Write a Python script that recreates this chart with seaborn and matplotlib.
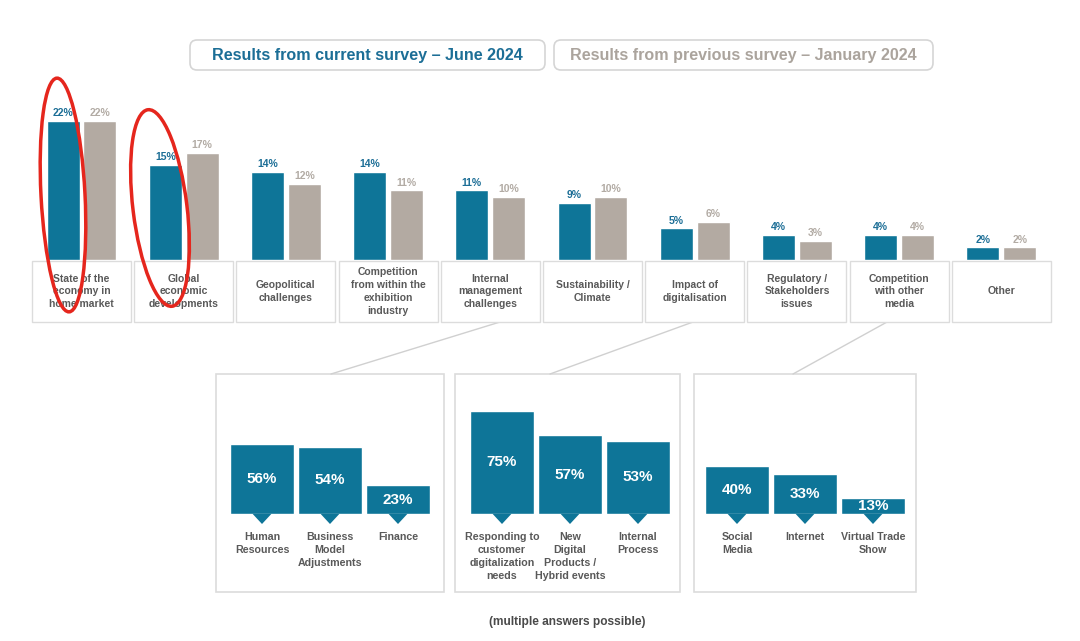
import matplotlib
matplotlib.use("Agg")
import matplotlib.pyplot as plt
import matplotlib.transforms as mtransforms
from matplotlib.patches import Rectangle, FancyBboxPatch, Ellipse, Polygon
import seaborn as sns
import pandas as pd

# ---------------- data ----------------
categories = ["State of the\neconomy in\nhome market", "Global\neconomic\ndevelopments",
              "Geopolitical\nchallenges", "Competition\nfrom within the\nexhibition\nindustry",
              "Internal\nmanagement\nchallenges", "Sustainability /\nClimate",
              "Impact of\ndigitalisation", "Regulatory /\nStakeholders\nissues",
              "Competition\nwith other\nmedia", "Other"]
current = [22, 15, 14, 14, 11, 9, 5, 4, 4, 2]
previous = [22, 17, 12, 11, 10, 10, 6, 3, 4, 2]
series_names = ["Results from current survey \u2013 June 2024",
                "Results from previous survey \u2013 January 2024"]

mgmt_labels = ["Human\nResources", "Business\nModel\nAdjustments", "Finance"]
mgmt_values = [56, 54, 23]
digi_labels = ["Responding to\ncustomer\ndigitalization\nneeds", "New\nDigital\nProducts /\nHybrid events",
               "Internal\nProcess"]
digi_values = [75, 57, 53]
media_labels = ["Social\nMedia", "Internet", "Virtual Trade\nShow"]
media_values = [40, 33, 13]
footnote = "(multiple answers possible)"

# ---------------- style ----------------
BLUE = "#0E7598"
GRAY = "#B3AAA2"
BLUE_TXT = "#1C6E96"
GRAY_TXT = "#B2ABA4"
DARK_TXT = "#595959"
EDGE = "#DCDCDC"

sns.set_theme(style="white")
plt.rcParams["font.family"] = ["Liberation Sans", "DejaVu Sans"]

W, H = 1080, 641
fig = plt.figure(figsize=(W / 100, H / 100), dpi=100)
fig.patch.set_facecolor("white")


def fx(px):
    return px / W


def fy(py):
    return (H - py) / H


# background overlay (pixel coordinates) for frames / decorations
bg = fig.add_axes([0, 0, 1, 1], zorder=0)
bg.set_xlim(0, W)
bg.set_ylim(H, 0)
bg.axis("off")

# ---------------- main chart ----------------
base_px, top_px = 260, 80
left_px, right_px = 30.4, 1052.4
ax = fig.add_axes([fx(left_px), fy(base_px), fx(right_px - left_px), (base_px - top_px) / H], zorder=2)
ax.patch.set_alpha(0)

df = pd.DataFrame({
    "category": categories * 2,
    "survey": [series_names[0]] * len(categories) + [series_names[1]] * len(categories),
    "value": current + previous,
})
sns.barplot(data=df, x="category", y="value", hue="survey", order=categories,
            hue_order=series_names, palette=[BLUE, GRAY], width=0.72, gap=0.1,
            saturation=1, legend=False, ax=ax)
ax.set_xlim(-0.5, len(categories) - 0.5)
ax.set_ylim(0, (base_px - top_px) / 6.32)
ax.axis("off")
for cont, col in zip(ax.containers, [BLUE_TXT, GRAY_TXT]):
    ax.bar_label(cont, fmt="{:.0f}%", padding=2, color=col, fontsize=7.5, fontweight="bold")

ax_h_px = base_px - top_px
blend = mtransforms.blended_transform_factory(ax.transData, ax.transAxes)
for i, cat in enumerate(categories):
    ax.add_patch(Rectangle((i - 0.485, -62 / ax_h_px), 0.97, 61 / ax_h_px, transform=blend,
                           facecolor="white", edgecolor=EDGE, lw=1, clip_on=False))
    ax.text(i, -31.5 / ax_h_px, cat, transform=blend, ha="center", va="center",
            fontsize=7.5, fontweight="bold", color=DARK_TXT, linespacing=1.37)

# ---------------- legend boxes ----------------
for (x0, x1), name, col in zip([(190, 545), (554, 933)], series_names, [BLUE_TXT, "#ABA49D"]):
    bg.add_patch(FancyBboxPatch((x0, 40), x1 - x0, 30, boxstyle="round,pad=0,rounding_size=7",
                                facecolor="white", edgecolor="#D5D5D5", lw=1.2))
    bg.text((x0 + x1) / 2, 55.5, name, ha="center", va="center", fontsize=11.6,
            fontweight="bold", color=col)

# ---------------- sub panels ----------------
panels = [
    ((216, 444), 228, mgmt_labels, mgmt_values, 1.25),
    ((455, 680), 468, digi_labels, digi_values, 1.38),
    ((694, 916), 703, media_labels, media_values, 1.2),
]
sub_base, sub_top = 514, 384
for (px0, px1), axl, labels, values, scale in panels:
    bg.add_patch(Rectangle((px0, 374), px1 - px0, 218, facecolor="white", edgecolor=EDGE, lw=1.2))
    sax = fig.add_axes([fx(axl), fy(sub_base), fx(204), (sub_base - sub_top) / H], zorder=2)
    sax.patch.set_alpha(0)
    sns.barplot(x=labels, y=values, color=BLUE, saturation=1, width=0.94, ax=sax)
    sax.set_xlim(-0.5, 2.5)
    sax.set_ylim(0, (sub_base - sub_top) / scale)
    for s in sax.spines.values():
        s.set_visible(False)
    sax.set_yticks([])
    sax.set_xlabel("")
    sax.set_ylabel("")
    sax.tick_params(axis="x", length=0, pad=13)
    for t in sax.get_xticklabels():
        t.set_fontsize(7.7)
        t.set_fontweight("bold")
        t.set_color(DARK_TXT)
        t.set_linespacing(1.37)
    sax.bar_label(sax.containers[0], fmt="{:.0f}%", label_type="center", color="white",
                  fontsize=11, fontweight="bold")
    sblend = mtransforms.blended_transform_factory(sax.transData, sax.transAxes)
    hpx = sub_base - sub_top
    for p in sax.patches:
        cx = p.get_x() + p.get_width() / 2
        sax.add_patch(Polygon([(cx - 0.14, 0.002), (cx + 0.14, 0.002), (cx, -10 / hpx)],
                              closed=True, transform=sblend, facecolor=BLUE, edgecolor="none",
                              clip_on=False))

# connector lines
for (xa, ya), (xb, yb) in [((500, 322), (331, 374)), ((693, 322), (550, 374)), ((887, 322), (793, 374))]:
    bg.plot([xa, xb], [ya, yb], color="#D0D0D0", lw=1)

bg.text(567, 622, footnote, ha="center", va="center", fontsize=8.6, fontweight="bold", color="#4A4A4A")

# ---------------- red highlight ellipses ----------------
top = fig.add_axes([0, 0, 1, 1], zorder=10)
top.set_xlim(0, W)
top.set_ylim(H, 0)
top.axis("off")
top.patch.set_alpha(0)
top.add_patch(Ellipse((63, 195), 44, 234, angle=-3, facecolor="none", edgecolor="#E5261D", lw=2.5))
top.add_patch(Ellipse((160, 208), 54, 198, angle=-7, facecolor="none", edgecolor="#E5261D", lw=2.5))

fig.savefig("out.png", dpi=100)
